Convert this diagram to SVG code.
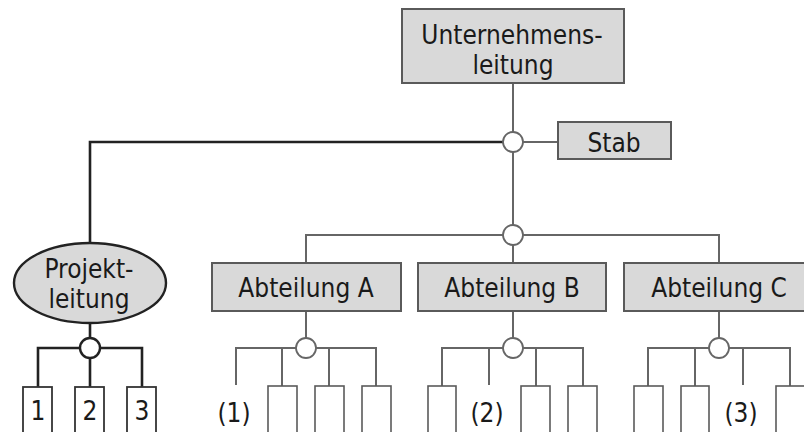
<svg xmlns="http://www.w3.org/2000/svg" width="804" height="432" viewBox="0 0 804 432">
<style>
.box{fill:#d9d9d9;stroke:#5a5a5a;stroke-width:2}
.sbox{fill:#fff;stroke:#5a5a5a;stroke-width:1.6}
.sboxd{fill:#fff;stroke:#333;stroke-width:1.8}
.ln{fill:none;stroke:#666;stroke-width:2}
.lnd{fill:none;stroke:#222;stroke-width:2.6}
.jn{fill:#fff;stroke:#666;stroke-width:1.8}
.jnd{fill:#fff;stroke:#222;stroke-width:2.4}
text{font-family:"DejaVu Sans Condensed","DejaVu Sans",sans-serif;font-size:26px;fill:#1a1a1a;text-anchor:middle}
</style>
<rect width="804" height="432" fill="#fff"/>
<g id="connectors">
<path class="ln" d="M513 83V263M513 142H558M306 263V235H719V263"/>
<path class="lnd" d="M503 142H90V243"/>
<path class="lnd" d="M90 323V348M38 387V348H142V387M90 348V387"/>
<path class="ln" d="M306 311V348M236 385V348H376V386M282 348V386M329 348V386"/>
<path class="ln" d="M513 311V348M442 386V348H583V386M489 348V385M536 348V386"/>
<path class="ln" d="M719 311V348M648 386V348H790V386M695 348V386M743 348V385"/>
<circle class="jn" cx="513" cy="142" r="10"/>
<circle class="jn" cx="513" cy="235" r="10"/>
<circle class="jnd" cx="90" cy="348" r="10"/>
<circle class="jn" cx="306" cy="348" r="10"/>
<circle class="jn" cx="513" cy="348" r="10"/>
<circle class="jn" cx="719" cy="348" r="10"/>
</g>
<g id="unternehmensleitung"><rect class="box" x="402" y="9" width="222" height="74"/><text x="512" y="44">Unternehmens-</text><text x="513" y="74">leitung</text></g>
<g id="stab"><rect class="box" x="558" y="122" width="113" height="37"/><text x="614" y="152">Stab</text></g>
<g id="projektleitung"><ellipse cx="90" cy="283" rx="76" ry="40" fill="#d9d9d9" stroke="#222" stroke-width="2.4"/><text x="89" y="278">Projekt-</text><text x="89" y="308">leitung</text></g>
<g id="abteilungA"><rect class="box" x="212" y="263" width="189" height="48"/><text x="306" y="297">Abteilung A</text></g>
<g id="abteilungB"><rect class="box" x="418" y="263" width="188" height="48"/><text x="512" y="297">Abteilung B</text></g>
<g id="abteilungC"><rect class="box" x="624" y="263" width="188" height="48"/><text x="719" y="297">Abteilung C</text></g>
<g id="p1"><rect class="sboxd" x="23" y="387" width="29" height="60"/><text x="38" y="420">1</text></g>
<g id="p2"><rect class="sboxd" x="75" y="387" width="29" height="60"/><text x="90" y="420">2</text></g>
<g id="p3"><rect class="sboxd" x="127" y="387" width="29" height="60"/><text x="142" y="420">3</text></g>
<g id="a1"><text x="234" y="422">(1)</text></g>
<g id="a2"><rect class="sbox" x="268" y="386" width="29" height="60"/></g>
<g id="a3"><rect class="sbox" x="315" y="386" width="29" height="60"/></g>
<g id="a4"><rect class="sbox" x="362" y="386" width="29" height="60"/></g>
<g id="b1"><rect class="sbox" x="428" y="386" width="28" height="60"/></g>
<g id="b2"><text x="487" y="422">(2)</text></g>
<g id="b3"><rect class="sbox" x="521" y="386" width="29" height="60"/></g>
<g id="b4"><rect class="sbox" x="568" y="386" width="29" height="60"/></g>
<g id="c1"><rect class="sbox" x="634" y="386" width="29" height="60"/></g>
<g id="c2"><rect class="sbox" x="681" y="386" width="28" height="60"/></g>
<g id="c3"><text x="741" y="422">(3)</text></g>
<g id="c4"><rect class="sbox" x="776" y="386" width="29" height="60"/></g>
</svg>
